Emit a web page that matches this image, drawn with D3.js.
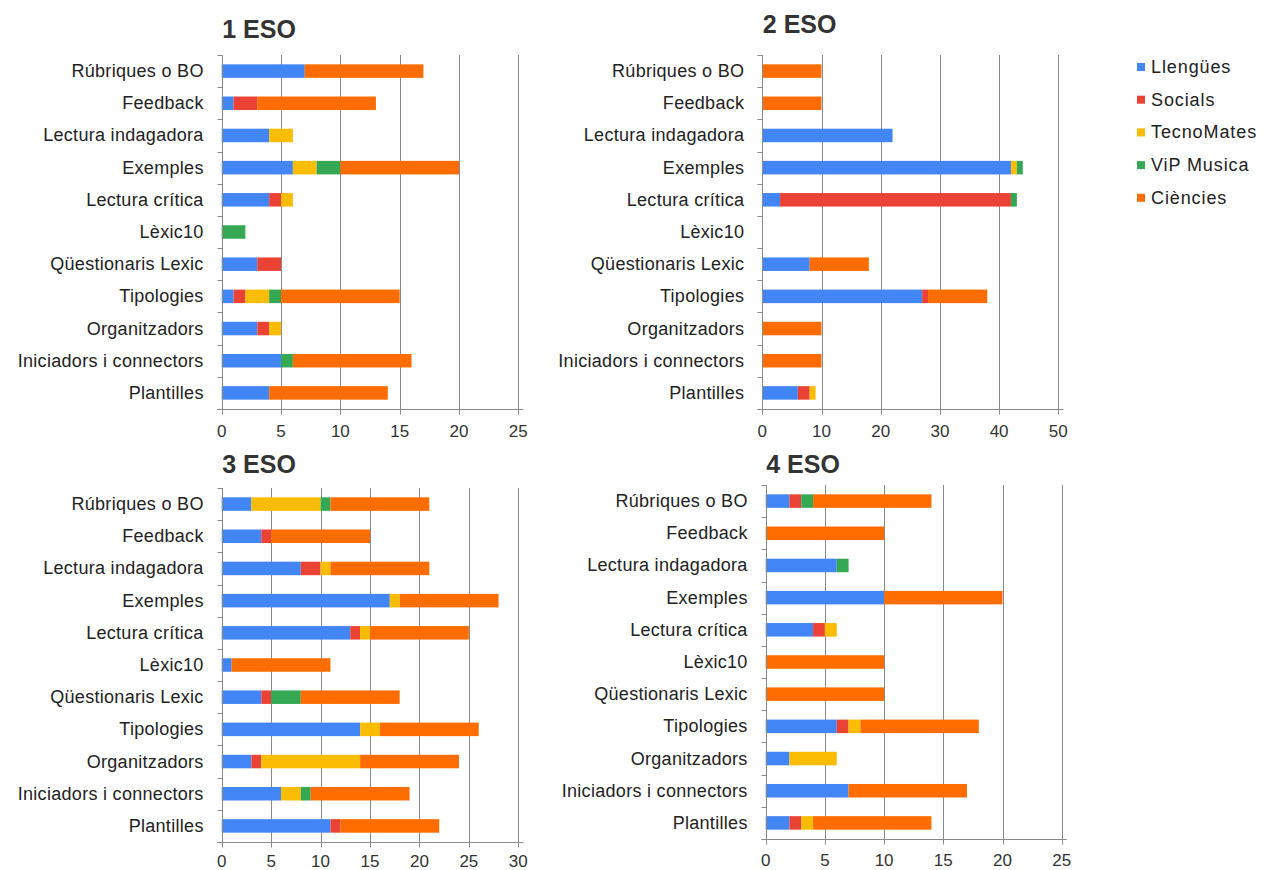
<!DOCTYPE html>
<html><head><meta charset="utf-8">
<script src="https://cdn.jsdelivr.net/npm/d3@7"></script>
<style>
body{margin:0;background:#fff;}
text{font-family:"Liberation Sans",Arial,sans-serif;}
</style></head><body>
<svg id="c" width="1263" height="870"></svg>
<script>
const categories = ["Rúbriques o BO","Feedback","Lectura indagadora","Exemples","Lectura crítica","Lèxic10","Qüestionaris Lexic","Tipologies","Organitzadors","Iniciadors i connectors","Plantilles"];
const seriesNames = ["Llengües","Socials","TecnoMates","ViP Musica","Ciències"];
const colors = ["#4285f4","#ea4335","#fbbc04","#34a853","#ff6d01"];
const panelTitles = ["1 ESO","2 ESO","3 ESO","4 ESO"];
const xMaxes = [25,50,30,25];
const xTicks1 = [0,5,10,15,20,25];
const xTicks2 = [0,10,20,30,40,50];
const xTicks3 = [0,5,10,15,20,25,30];
const xTicks4 = [0,5,10,15,20,25];
// values per category: [Llengües, Socials, TecnoMates, ViP Musica, Ciències]
const eso1 = [[7,0,0,0,10],[1,2,0,0,10],[4,0,2,0,0],[6,0,2,2,10],[4,1,1,0,0],[0,0,0,2,0],[3,2,0,0,0],[1,1,2,1,10],[3,1,1,0,0],[5,0,0,1,10],[4,0,0,0,10]];
const eso2 = [[0,0,0,0,10],[0,0,0,0,10],[22,0,0,0,0],[42,0,1,1,0],[3,39,0,1,0],[0,0,0,0,0],[8,0,0,0,10],[27,1,0,0,10],[0,0,0,0,10],[0,0,0,0,10],[6,2,1,0,0]];
const eso3 = [[3,0,7,1,10],[4,1,0,0,10],[8,2,1,0,10],[17,0,1,0,10],[13,1,1,0,10],[1,0,0,0,10],[4,1,0,3,10],[14,0,2,0,10],[3,1,10,0,10],[6,0,2,1,10],[11,1,0,0,10]];
const eso4 = [[2,1,0,1,10],[0,0,0,0,10],[6,0,0,1,0],[10,0,0,0,10],[4,1,1,0,0],[0,0,0,0,10],[0,0,0,0,10],[6,1,1,0,10],[2,0,4,0,0],[7,0,0,0,10],[2,1,1,0,10]];

const svg = d3.select("#c");
const panels = [
  {data:eso1, ticks:xTicks1, max:xMaxes[0], title:panelTitles[0], x0:221.7, x1:518.3, y0:55, y1:409, ty:38, tl:28},
  {data:eso2, ticks:xTicks2, max:xMaxes[1], title:panelTitles[1], x0:762.3, x1:1058.3, y0:55, y1:409, ty:33, tl:28},
  {data:eso3, ticks:xTicks3, max:xMaxes[2], title:panelTitles[2], x0:221.7, x1:518.3, y0:488, y1:842, ty:473, tl:25},
  {data:eso4, ticks:xTicks4, max:xMaxes[3], title:panelTitles[3], x0:765.7, x1:1061.7, y0:485, y1:839, ty:473, tl:27}
];

panels.forEach(p => {
  const g = svg.append("g");
  const x = d3.scaleLinear().domain([0,p.max]).range([p.x0,p.x1]);
  const y = d3.scaleBand().domain(categories).range([p.y0,p.y1]).paddingInner(0.58).paddingOuter(0.29);
  const step = y.step();
  g.selectAll("line.grid").data(p.ticks.slice(1)).join("line")
    .attr("x1",d=>Math.round(x(d))+0.5).attr("x2",d=>Math.round(x(d))+0.5)
    .attr("y1",p.y0).attr("y2",p.y1).attr("stroke","#8a8a8a").attr("stroke-width",1);
  const stackData = categories.map((c,i)=>{const o={cat:c}; seriesNames.forEach((s,j)=>o[s]=p.data[i][j]); return o;});
  const stacked = d3.stack().keys(seriesNames)(stackData);
  stacked.forEach((layer,si)=>{
    g.selectAll(null).data(layer.filter(d=>d[1]-d[0]>0)).join("rect")
      .attr("x",d=>x(d[0])).attr("width",d=>x(d[1])-x(d[0]))
      .attr("y",d=>y(d.data.cat)).attr("height",y.bandwidth())
      .attr("fill",colors[si]);
  });
  const ax0 = Math.round(p.x0)+0.5;
  g.append("line").attr("x1",ax0).attr("x2",ax0).attr("y1",p.y0).attr("y2",p.y1+4).attr("stroke","#8a8a8a");
  const bounds = d3.range(categories.length+1).map(i=>p.y0+i*step);
  g.selectAll(null).data(bounds).join("line")
    .attr("x1",ax0-5).attr("x2",ax0).attr("y1",d=>Math.round(d)+0.5).attr("y2",d=>Math.round(d)+0.5).attr("stroke","#8a8a8a");
  const by = Math.round(p.y1)+0.5;
  g.append("line").attr("x1",ax0-5).attr("x2",p.x1+5).attr("y1",by).attr("y2",by).attr("stroke","#8a8a8a");
  g.selectAll(null).data(p.ticks).join("line")
    .attr("x1",d=>Math.round(x(d))+0.5).attr("x2",d=>Math.round(x(d))+0.5)
    .attr("y1",by).attr("y2",by+5).attr("stroke","#8a8a8a");
  g.selectAll(null).data(p.ticks).join("text")
    .attr("x",d=>x(d)).attr("y",p.y1+p.tl).attr("text-anchor","middle")
    .attr("font-size",17).attr("fill","#333").text(d=>d);
  g.selectAll(null).data(categories).join("text")
    .attr("x",p.x0-18).attr("y",d=>y(d)+y.bandwidth()/2+6).attr("text-anchor","end")
    .attr("font-size",18).attr("letter-spacing","0.3px").attr("fill","#222").text(d=>d);
  g.append("text").attr("x",p.x0+0.5).attr("y",p.ty).attr("font-size",25).attr("font-weight","bold")
    .attr("fill","#333").text(p.title);
});

const lg = svg.append("g");
seriesNames.forEach((s,i)=>{
  const cy = 67 + i*32.7;
  lg.append("rect").attr("x",1137).attr("y",cy-4).attr("width",8).attr("height",8).attr("fill",colors[i]);
  lg.append("text").attr("x",1151).attr("y",cy+6).attr("font-size",18).attr("letter-spacing","0.9px").attr("fill","#222").text(s);
});
</script></body></html>
